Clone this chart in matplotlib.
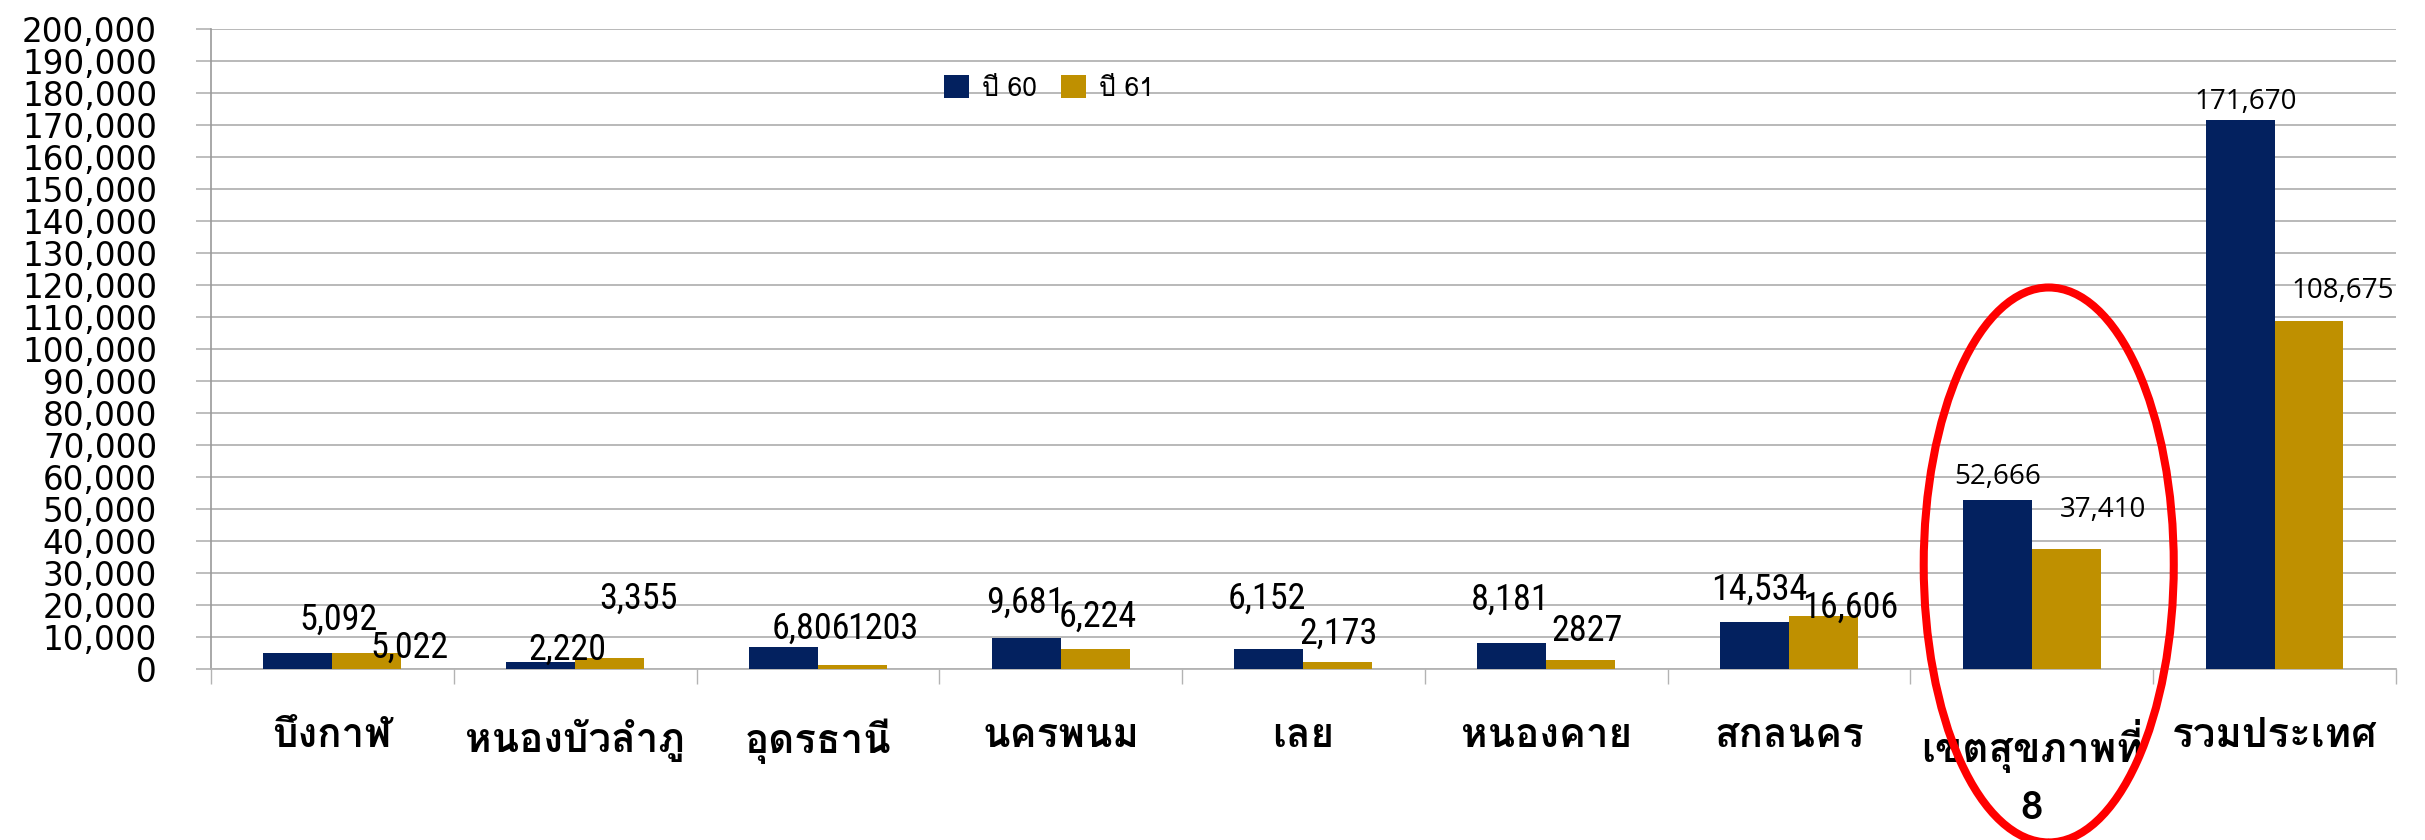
import matplotlib
matplotlib.use('Agg')
from matplotlib import pyplot as plt
from matplotlib import font_manager
from matplotlib.patches import Ellipse
from matplotlib.ticker import FuncFormatter, FixedLocator
from fontTools.ttLib import TTFont
import numpy as np

# data
provinces = ['บึงกาฬ', 'หนองบัวลำภู', 'อุดรธานี', 'นครพนม', 'เลย',
             'หนองคาย', 'สกลนคร', 'เขตสุขภาพที่\n8', 'รวมประเทศ']
series_names = ['ปี 60', 'ปี 61']
values_60 = [5092, 2220, 6806, 9681, 6152, 8181, 14534, 52666, 171670]
values_61 = [5022, 3355, 1203, 6224, 2173, 2827, 16606, 37410, 108675]
labels_60 = ['5,092', '2,220', '6,806', '9,681', '6,152', '8,181', '14,534', '52,666', '171,670']
labels_61 = ['5,022', '3,355', '1203', '6,224', '2,173', '2827', '16,606', '37,410', '108,675']

# label offsets from the top of each bar (pixels), hand placed like the original
offsets_60 = [(41, 33), (27, 12), (27, 18), (-1, 35), (-2, 51), (-1, 43), (5, 33), (0, 23), (6, 18)]
offsets_61 = [(43, 5), (29, 60), (30, 36), (3, 32), (1, 28), (6, 29), (27, 8), (37, 39), (34, 30)]

navy = '#03215f'
gold = '#bf9000'
grid_gray = '#b3b3b3'


def families_with(char):
    # installed families whose cmap has the given character
    found = []
    for f in font_manager.fontManager.ttflist:
        if f.name in found:
            continue
        try:
            cmap = TTFont(f.fname, fontNumber=0, lazy=True).getBestCmap()
        except Exception:
            continue
        if cmap and ord(char) in cmap:
            found.append(f.name)
    return found


def narrow_family():
    names = {f.name for f in font_manager.fontManager.ttflist}
    for name in ['Liberation Sans Narrow', 'Roboto Condensed', 'Open Sans Condensed',
                 'DejaVu Sans Condensed']:
        if name in names:
            return name
    return 'DejaVu Sans'


thai_fonts = families_with('ก')[:3] + ['DejaVu Sans']
narrow = narrow_family()

fig = plt.figure(figsize=(24.25, 8.4), dpi=100)
ax = fig.add_axes([0.087, 0.2036, 0.901, 0.762])

x = np.arange(len(provinces))
w = 0.284
bars_60 = ax.bar(x - w / 2, values_60, w, color=navy, label=series_names[0], zorder=3)
bars_61 = ax.bar(x + w / 2, values_61, w, color=gold, label=series_names[1], zorder=3)

for i in range(len(provinces)):
    if i < 7:
        fam, stretch, size = [narrow, 'DejaVu Sans'], 'condensed', 26
    else:
        fam, stretch, size = ['Open Sans', 'DejaVu Sans'], 'normal', 20
    for b, txt, off in ((bars_60[i], labels_60[i], offsets_60[i]),
                        (bars_61[i], labels_61[i], offsets_61[i])):
        ax.annotate(txt, (b.get_x() + b.get_width() / 2, b.get_height()),
                    xytext=off, textcoords='offset pixels',
                    ha='center', va='center', fontsize=size, family=fam,
                    fontstretch=stretch, zorder=4)

ax.set_xlim(-0.5, len(provinces) - 0.5)
ax.set_ylim(0, 200000)
ax.yaxis.set_major_locator(FixedLocator(np.arange(0, 200001, 10000)))
ax.yaxis.set_major_formatter(FuncFormatter(lambda v, p: f'{v:,.0f}'))
ax.grid(axis='y', color=grid_gray, linewidth=1.3, zorder=0)
ax.set_axisbelow(True)

ax.tick_params(axis='y', length=10.8, width=1.2, color=grid_gray, pad=28,
               labelsize=23.5)
for t in ax.get_yticklabels():
    t.set_family('DejaVu Sans')

ax.set_xticks(x)
ax.set_xticklabels(provinces, family=thai_fonts, fontsize=29, fontweight='bold',
                   linespacing=1.64)
ax.set_xticks(np.arange(-0.5, len(provinces)), minor=True)
ax.tick_params(axis='x', which='major', length=0, pad=36)
ax.tick_params(axis='x', which='minor', length=10.8, width=1, color=grid_gray)

for s in ['top', 'right']:
    ax.spines[s].set_visible(False)
ax.spines['left'].set_color('#999999')
ax.spines['bottom'].set_color(grid_gray)
ax.spines['left'].set_linewidth(1.2)
ax.spines['bottom'].set_linewidth(1.3)

ax.legend(loc='center', bbox_to_anchor=(0.4326, 0.895), bbox_transform=fig.transFigure,
          ncol=2, frameon=False, handlelength=0.95, handleheight=0.95,
          handletextpad=0.5, columnspacing=0.9,
          prop={'family': thai_fonts, 'size': 19})

# red highlight around region 8
ax.add_patch(Ellipse((7.07, 32500), 1.03, 173400, fill=False, edgecolor='#ff0000',
                     linewidth=5.8, clip_on=False, zorder=5))

fig.savefig('out.png', dpi=100)
